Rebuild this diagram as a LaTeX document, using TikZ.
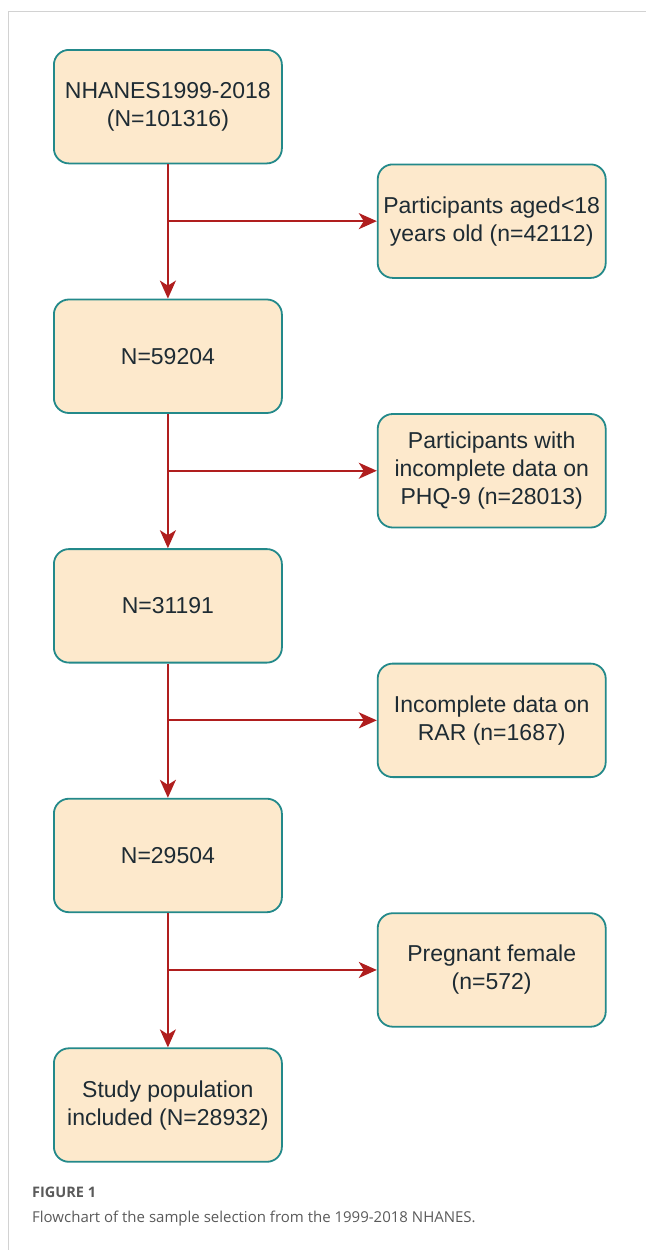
\documentclass[tikz,border=0pt]{standalone}
\usepackage{fontspec}
\setmainfont{Liberation Sans}
\newfontfamily\capfont{Open Sans}
\usepackage{xcolor}
\usetikzlibrary{arrows.meta,positioning}
\definecolor{boxfill}{HTML}{FDE9CC}
\definecolor{boxline}{HTML}{23898A}
\definecolor{flowred}{HTML}{B01E1E}
\definecolor{boxtext}{HTML}{1E2B33}
\definecolor{frame}{HTML}{D2D2D2}
\definecolor{captext}{HTML}{5A5A5A}

\begin{document}
\begin{tikzpicture}[
  x=1pt, y=-1pt,
  node distance=134.3pt and 94pt,
  box/.style={draw=boxline, line width=1.8pt, fill=boxfill, rounded corners=15pt,
    minimum width=228pt, minimum height=113.5pt, inner sep=2pt, align=center,
    text=boxtext, font=\fontsize{23}{28}\selectfont},
  arr/.style={-{Stealth[length=18pt, width=16pt, inset=5pt]}, line width=2pt, flowred}]
  \useasboundingbox (0,0) rectangle (646,1250);
  \draw[frame, line width=1pt] (8,1250) -- (8,11) -- (646,11);
  % main stream
  \node[box, anchor=north west] (all) at (53,49) {NHANES1999-2018\\(N=101316)};
  \node[box, below=of all] (n1) {N=59204};
  \node[box, below=of n1] (n2) {N=31191};
  \node[box, below=of n2] (n3) {N=29504};
  \node[box, below=of n3] (fin) {Study population\\included (N=28932)};
  % exclusions
  \node[box, below right=-0.8pt and 94pt of all] (ex1) {Participants aged<18\\years old (n=42112)};
  \node[box, below right=-0.8pt and 94pt of n1] (ex2) {Participants with\\incomplete data on\\PHQ-9 (n=28013)};
  \node[box, below right=-0.8pt and 94pt of n2] (ex3) {Incomplete data on\\RAR (n=1687)};
  \node[box, below right=-0.8pt and 94pt of n3] (ex4) {Pregnant female\\(n=572)};
  \draw[arr] (all) -- (n1); \draw[arr] (n1) -- (n2); \draw[arr] (n2) -- (n3); \draw[arr] (n3) -- (fin);
  \draw[arr] (all |- ex1.west) -- (ex1.west);
  \draw[arr] (n1 |- ex2.west) -- (ex2.west);
  \draw[arr] (n2 |- ex3.west) -- (ex3.west);
  \draw[arr] (n3 |- ex4.west) -- (ex4.west);
  % caption
  \node[anchor=base west, inner sep=0pt, text=captext, font=\capfont\fontsize{14.5}{17}\selectfont\bfseries] (fig) at (32,1197) {FIGURE 1};
  \node[anchor=base west, inner sep=0pt, text=captext, font=\capfont\fontsize{15}{18}\selectfont] (cap) at (32,1222) {Flowchart of the sample selection from the 1999-2018 NHANES.};
\end{tikzpicture}
\end{document}
